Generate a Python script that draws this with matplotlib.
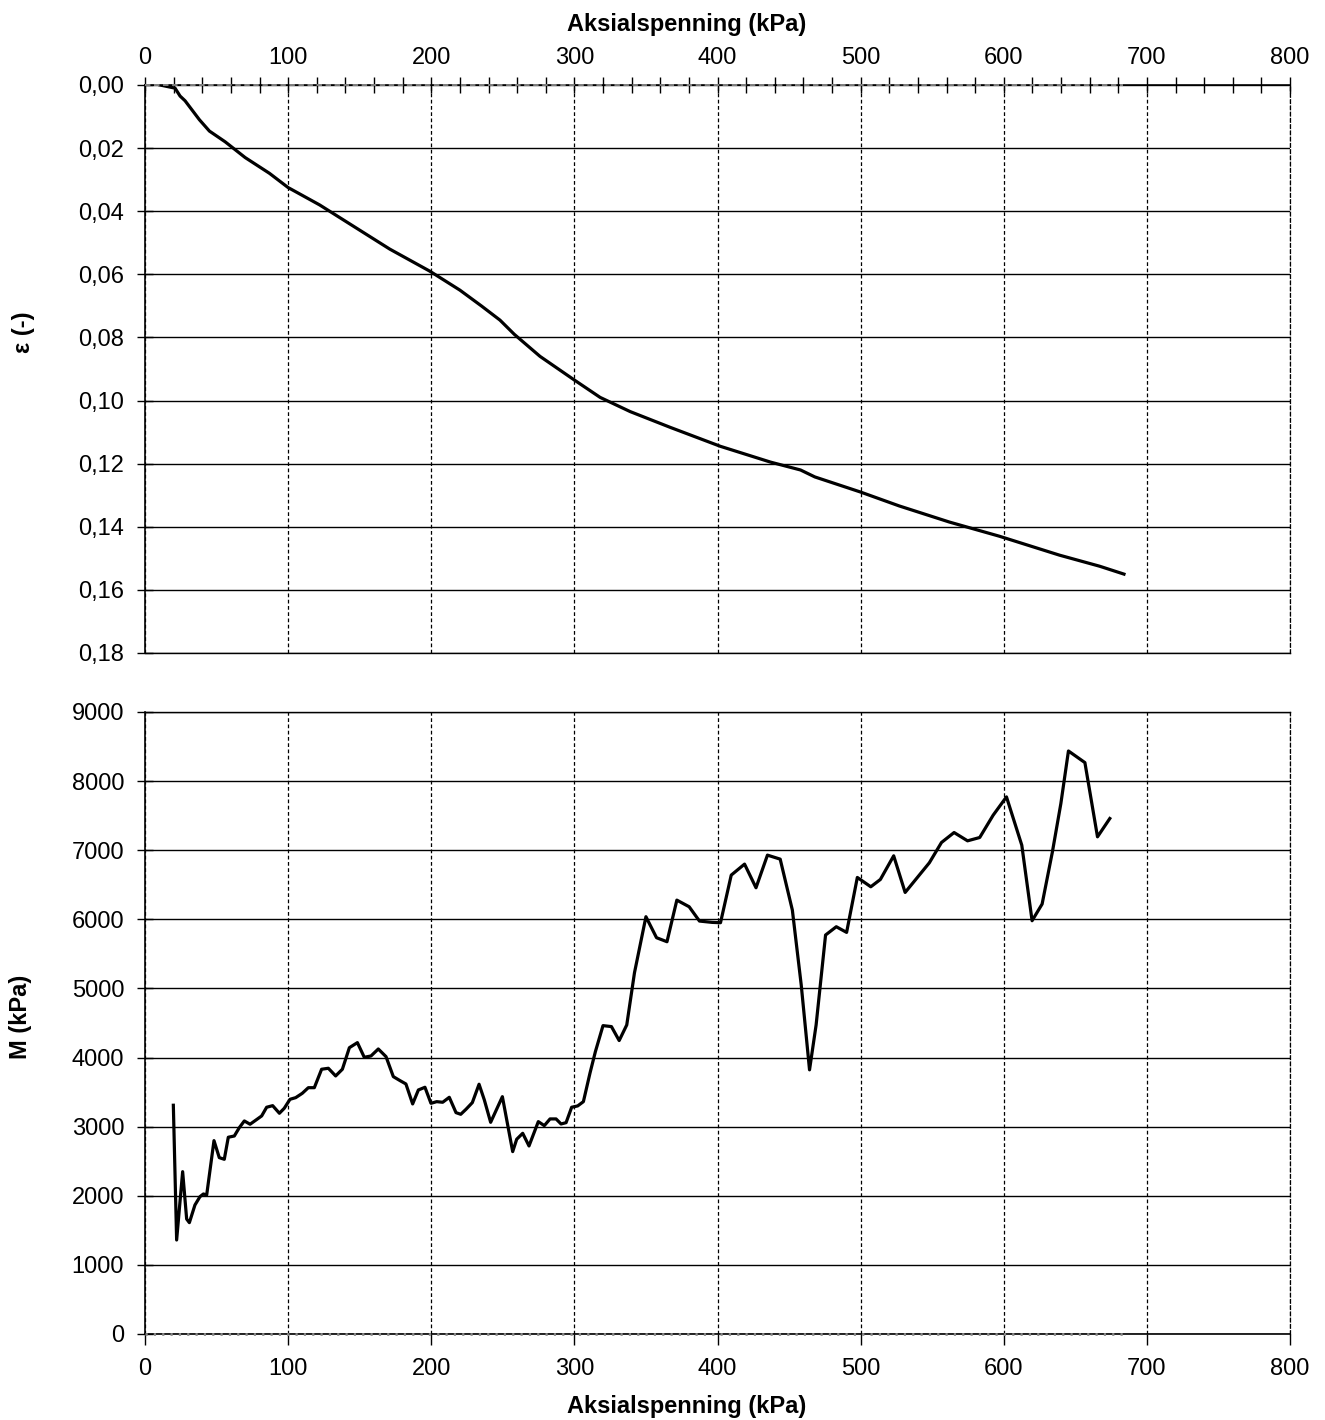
import matplotlib
matplotlib.use("Agg")
import matplotlib.pyplot as plt
from matplotlib.ticker import FuncFormatter, MultipleLocator

plt.rcParams['font.family'] = ['Liberation Sans', 'DejaVu Sans']

# ---- data: strain curve (top) ----
eps_stress = [10.5, 21, 24.5, 28, 33, 38, 45, 56, 70, 87, 100, 122, 143, 171, 199, 220, 235, 248, 258,
              276, 300, 318, 339, 367, 402, 437, 458, 468, 500, 527, 562, 597, 618, 639, 667, 684]
eps_vals = [0.0, 0.001, 0.0035, 0.005, 0.008, 0.011, 0.0146, 0.018, 0.023, 0.028, 0.0325, 0.038,
            0.044, 0.052, 0.059, 0.065, 0.070, 0.0745, 0.079, 0.086, 0.0935, 0.099, 0.1035, 0.1085,
            0.1145, 0.1195, 0.122, 0.1242, 0.129, 0.1334, 0.1385, 0.143, 0.146, 0.149, 0.1525, 0.155]

# ---- data: modulus curve (bottom) ----
m_stress = [19.8, 22.1, 26.3, 29.1, 31.0, 34.9, 38.4, 40.8, 43.1, 48.2, 51.9, 55.4, 58.2, 62.4,
            65.9, 69.4, 73.4, 77.6, 81.5, 85.0, 89.2, 93.9, 97.3, 101.3, 105.3, 109.9, 114.1,
            118.3, 123.4, 128.1, 133.2, 137.9, 142.8, 148.4, 153.2, 157.9, 163.0, 168.4, 173.5,
            178.2, 182.3, 187.0, 191.0, 195.6, 199.8, 203.8, 208.0, 212.6, 217.3, 220.6, 224.3,
            228.7, 233.4, 237.1, 241.5, 249.7, 256.9, 259.7, 263.9, 268.3, 274.8, 279.0, 283.0,
            287.2, 290.7, 294.2, 298.1, 302.3, 306.3, 310.9, 314.7, 320.0, 325.9, 331.3, 336.6,
            342.0, 350.0, 357.4, 364.7, 371.6, 380.2, 387.4, 396.2, 402.1, 409.6, 418.9, 426.9,
            434.9, 443.8, 452.3, 458.5, 464.3, 468.9, 475.5, 483.0, 490.2, 497.7, 507.1, 513.8,
            523.1, 531.1, 548.0, 556.5, 565.3, 574.7, 583.2, 592.6, 601.9, 612.6, 619.8, 626.8,
            634.0, 639.9, 645.2, 656.7, 665.5, 674.1]
m_vals = [3310, 1360, 2349, 1664, 1611, 1867, 1987, 2026, 2012, 2798, 2552, 2528, 2847, 2865,
          2986, 3083, 3035, 3097, 3155, 3281, 3304, 3194, 3266, 3396, 3420, 3483, 3564, 3564,
          3831, 3845, 3734, 3831, 4143, 4216, 4004, 4023, 4124, 4013, 3724, 3666, 3618, 3329,
          3531, 3570, 3338, 3362, 3353, 3425, 3203, 3179, 3252, 3348, 3614, 3386, 3063, 3434,
          2639, 2818, 2904, 2721, 3073, 3015, 3112, 3112, 3039, 3058, 3281, 3300, 3362, 3774,
          4087, 4462, 4448, 4246, 4472, 5228, 6038, 5734, 5676, 6278, 6182, 5975, 5956, 5951,
          6640, 6799, 6457, 6929, 6871, 6134, 5050, 3822, 4472, 5773, 5893, 5811, 6606, 6471,
          6577, 6919, 6389, 6818, 7112, 7256, 7136, 7184, 7507, 7772, 7073, 5980, 6221, 6977,
          7675, 8436, 8268, 7194, 7459]

# zero reference series
base_x = [0, 683]
base_y = [0, 0]

x_label = "Aksialspenning (kPa)"
top_ylabel = "ε (-)"
bot_ylabel = "M (kPa)"

W, H = 1325, 1420
fig = plt.figure(figsize=(W / 100, H / 100), dpi=100)

T1, B1 = 85, 653
T2, B2 = 712, 1334
L, R = 145, 1290
ax1 = fig.add_axes([L / W, 1 - B1 / H, (R - L) / W, (B1 - T1) / H])
ax2 = fig.add_axes([L / W, 1 - B2 / H, (R - L) / W, (B2 - T2) / H])

fs = 17
lw = 2.3
dash = (0, (3, 2))
xlab_x = (687 - L) / (R - L)

# ---- top axes ----
ax1.plot(eps_stress, eps_vals, color='black', lw=lw, zorder=5)
ax1.plot(base_x, base_y, color='#8a8a8a', lw=1.3, ls=dash, zorder=6, clip_on=False)
ax1.set_xlim(0, 800)
ax1.set_ylim(0.18, 0.0)
ax1.xaxis.tick_top()
ax1.xaxis.set_label_position('top')
ax1.xaxis.set_major_locator(MultipleLocator(100))
ax1.xaxis.set_minor_locator(MultipleLocator(20))
ax1.yaxis.set_major_locator(MultipleLocator(0.02))
ax1.yaxis.set_major_formatter(FuncFormatter(lambda v, p: f"{v:.2f}".replace('.', ',')))
ax1.tick_params(axis='x', which='major', direction='inout', length=11, width=1, labelsize=fs, pad=6)
ax1.tick_params(axis='x', which='minor', direction='inout', length=11, width=1)
ax1.tick_params(axis='y', which='major', direction='inout', length=12, width=1, labelsize=fs, pad=9)
ax1.spines['right'].set_linestyle(dash)
ax1.spines['right'].set_linewidth(0.9)
ax1.spines['bottom'].set_linewidth(1.0)
for s in ['left', 'top']:
    ax1.spines[s].set_linewidth(1.2)
ax1.grid(axis='y', color='black', lw=1.0, ls='-')
ax1.grid(axis='x', which='major', color='black', lw=0.9, ls=dash)
ax1.set_axisbelow(True)
ax1.set_xlabel(x_label, fontsize=fs, fontweight='bold', va='center')
ax1.xaxis.set_label_coords(xlab_x, 1 + (T1 - 24) / (B1 - T1))
ax1.set_ylabel(top_ylabel, fontsize=fs, fontweight='bold', va='center')
ax1.yaxis.set_label_coords((23 - L) / (R - L), (B1 - 332) / (B1 - T1))

# ---- bottom axes ----
ax2.plot(m_stress, m_vals, color='black', lw=lw, zorder=5)
ax2.plot(base_x, base_y, color='#8a8a8a', lw=2.0, ls=(0, (0.8, 2.2)), zorder=6, clip_on=False)
ax2.set_xlim(0, 800)
ax2.set_ylim(0, 9000)
ax2.xaxis.set_major_locator(MultipleLocator(100))
ax2.yaxis.set_major_locator(MultipleLocator(1000))
ax2.tick_params(axis='x', which='major', direction='out', length=8, width=1, labelsize=fs, pad=9)
ax2.tick_params(axis='y', which='major', direction='inout', length=12, width=1, labelsize=fs, pad=9)
ax2.spines['right'].set_linestyle(dash)
ax2.spines['right'].set_linewidth(0.9)
ax2.spines['top'].set_linewidth(1.0)
for s in ['left', 'bottom']:
    ax2.spines[s].set_linewidth(1.2)
ax2.grid(axis='y', color='black', lw=1.0, ls='-')
ax2.grid(axis='x', which='major', color='black', lw=0.9, ls=dash)
ax2.set_axisbelow(True)
ax2.set_xlabel(x_label, fontsize=fs, fontweight='bold', va='center')
ax2.xaxis.set_label_coords(xlab_x, -(1407 - B2) / (B2 - T2))
ax2.set_ylabel(bot_ylabel, fontsize=fs, fontweight='bold', va='center')
ax2.yaxis.set_label_coords((20 - L) / (R - L), (B2 - 1017) / (B2 - T2))

fig.savefig("out.png", dpi=100)
